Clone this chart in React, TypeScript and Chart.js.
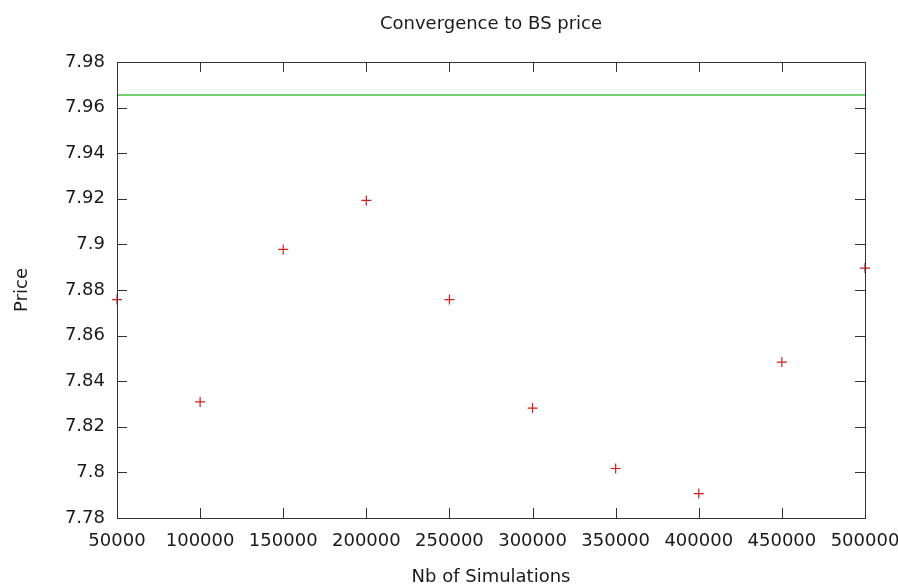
import React, { useEffect, useRef } from "react";
import { Chart, registerables } from "chart.js";

Chart.register(...registerables);

const chartTitle = "Convergence to BS price";
const xTitle = "Nb of Simulations";
const yTitle = "Price";

const xTicks = [50000, 100000, 150000, 200000, 250000, 300000, 350000, 400000, 450000, 500000];
const yTicks = [7.78, 7.8, 7.82, 7.84, 7.86, 7.88, 7.9, 7.92, 7.94, 7.96, 7.98];

const simulations = [50000, 100000, 150000, 200000, 250000, 300000, 350000, 400000, 450000, 500000];
const prices = [7.8758, 7.8309, 7.8978, 7.9193, 7.8758, 7.8282, 7.8017, 7.7907, 7.8484, 7.8896];
const bsPrice = 7.9655;

const FONT = "'DejaVu Sans', sans-serif";
const FS = 18;

const boxPlugin = {
  id: "gnuplotBox",
  afterDraw(chart: any) {
    const ctx = chart.ctx;
    const { left, right, top, bottom } = chart.chartArea;
    const xs = chart.scales.x;
    const ys = chart.scales.y;
    const L = 10;
    ctx.save();
    ctx.strokeStyle = "#333333";
    ctx.lineWidth = 1;
    ctx.beginPath();
    for (const v of xTicks) {
      const px = Math.round(xs.getPixelForValue(v)) + 0.5;
      ctx.moveTo(px, bottom);
      ctx.lineTo(px, bottom - L);
      ctx.moveTo(px, top);
      ctx.lineTo(px, top + L);
    }
    for (const v of yTicks) {
      const py = Math.round(ys.getPixelForValue(v)) + 0.5;
      ctx.moveTo(left, py);
      ctx.lineTo(left + L, py);
      ctx.moveTo(right, py);
      ctx.lineTo(right - L, py);
    }
    ctx.stroke();
    ctx.strokeRect(Math.round(left) + 0.5, Math.round(top) + 0.5, Math.round(right - left), Math.round(bottom - top));
    ctx.restore();
  },
};

export default function App() {
  const ref = useRef<HTMLCanvasElement | null>(null);

  useEffect(() => {
    document.body.style.margin = "0";
    const canvas = ref.current;
    if (!canvas) return;
    const chart = new Chart(canvas, {
      type: "scatter",
      data: {
        datasets: [
          {
            label: "BS price",
            type: "line",
            data: [
              { x: xTicks[0], y: bsPrice },
              { x: xTicks[xTicks.length - 1], y: bsPrice },
            ],
            borderColor: "#44c044",
            borderWidth: 1.5,
            pointRadius: 0,
            fill: false,
          } as any,
          {
            label: "Monte Carlo",
            data: simulations.map((s, i) => ({ x: s, y: prices[i] })),
            pointStyle: "cross",
            pointRadius: 5,
            pointBorderWidth: 1.2,
            borderColor: "#cc1f1f",
            backgroundColor: "#cc1f1f",
            clip: false,
          } as any,
        ],
      },
      options: {
        animation: false,
        responsive: false,
        devicePixelRatio: 1,
        layout: { autoPadding: false, padding: { left: 0, right: 33, top: 0, bottom: 0 } } as any,
        plugins: {
          legend: { display: false },
          tooltip: { enabled: false },
          title: {
            display: true,
            fullSize: false,
            text: chartTitle,
            color: "#1a1a1a",
            font: { family: FONT, size: FS, weight: "normal" },
            padding: { top: 14, bottom: 26.4 },
          },
        },
        scales: {
          x: {
            type: "linear",
            min: 50000,
            max: 500000,
            grid: { display: false, drawTicks: false },
            border: { display: false },
            afterFit: (s: any) => {
              s.height = 70;
              s.paddingLeft = 0;
              s.paddingRight = 0;
            },
            afterBuildTicks: (s: any) => {
              s.ticks = xTicks.map((v) => ({ value: v }));
            },
            ticks: {
              padding: 13,
              color: "#1a1a1a",
              font: { family: FONT, size: FS },
              maxRotation: 0,
              autoSkip: false,
              callback: (v: any) => String(v),
            },
            title: {
              display: true,
              text: xTitle,
              color: "#1a1a1a",
              font: { family: FONT, size: FS },
              padding: { top: 0, bottom: 0.2 },
            },
          },
          y: {
            type: "linear",
            min: 7.78,
            max: 7.98,
            grid: { display: false, drawTicks: false },
            border: { display: false },
            afterFit: (s: any) => {
              s.width = 117;
              s.paddingTop = 0;
              s.paddingBottom = 0;
            },
            afterBuildTicks: (s: any) => {
              s.ticks = yTicks.map((v) => ({ value: v }));
            },
            ticks: {
              padding: 12,
              color: "#1a1a1a",
              font: { family: FONT, size: FS },
              autoSkip: false,
              callback: (v: any) => String(Number(Number(v).toFixed(2))),
            },
            title: {
              display: true,
              text: yTitle,
              color: "#1a1a1a",
              font: { family: FONT, size: FS },
              padding: { top: 11.7, bottom: 0 },
            },
          },
        },
      },
      plugins: [boxPlugin],
    });
    return () => chart.destroy();
  }, []);

  return (
    <div style={{ position: "fixed", left: 0, top: 0, width: 898, height: 588, background: "#ffffff" }}>
      <canvas ref={ref} width={898} height={588} style={{ width: 898, height: 588, display: "block" }} />
    </div>
  );
}
